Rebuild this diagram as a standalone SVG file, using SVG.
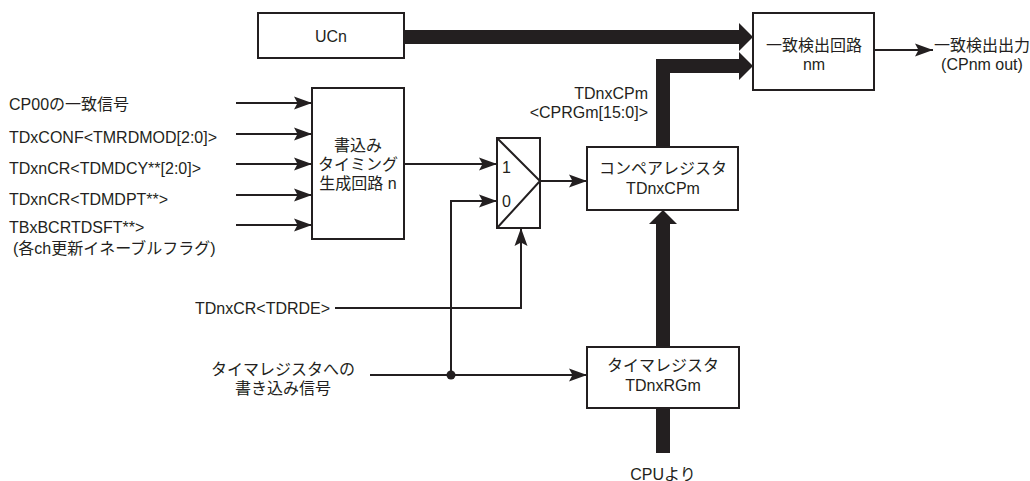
<svg xmlns="http://www.w3.org/2000/svg" width="1030" height="481" viewBox="0 0 1030 481">
<style>
text{font-family:"Liberation Sans","Noto Sans CJK JP",sans-serif;font-size:16px;fill:#231f20;dominant-baseline:central}
.box{fill:#fff;stroke:#231f20;stroke-width:2}
.w{fill:none;stroke:#231f20;stroke-width:2}
.bus{fill:none;stroke:#231f20;stroke-width:14;stroke-linejoin:miter}
.mid{text-anchor:middle}
.end{text-anchor:end}
</style>
<defs>
<marker id="ah" markerUnits="userSpaceOnUse" markerWidth="20" markerHeight="14" viewBox="-19 -7 20 14" refX="0" refY="0" orient="auto">
<path d="M0,0 L-18,-6.5 L-14.5,0 L-18,6.5 Z" fill="#231f20"/>
</marker>
<marker id="bh" markerUnits="userSpaceOnUse" markerWidth="18" markerHeight="30" viewBox="-1 -15 17 30" refX="0" refY="0" orient="auto">
<path d="M0,-14 L14,0 L0,14 Z" fill="#231f20"/>
</marker>
</defs>

<g id="connectors">
<path class="bus" d="M404,37 H739" marker-end="url(#bh)"/>
<path class="bus" d="M663,147 V66 H739" marker-end="url(#bh)"/>
<path class="bus" d="M663,347 V224" marker-end="url(#bh)"/>
<path class="bus" d="M663,408 V453"/>
<path class="w" d="M236,103 H312" marker-end="url(#ah)"/>
<path class="w" d="M236,134 H312" marker-end="url(#ah)"/>
<path class="w" d="M236,164 H312" marker-end="url(#ah)"/>
<path class="w" d="M236,195 H312" marker-end="url(#ah)"/>
<path class="w" d="M236,225 H312" marker-end="url(#ah)"/>
<path class="w" d="M404,164 H497" marker-end="url(#ah)"/>
<path class="w" d="M451,375 V201 H497" marker-end="url(#ah)"/>
<path class="w" d="M335,308 H521 V228" marker-end="url(#ah)"/>
<path class="w" d="M370,375 H587" marker-end="url(#ah)"/>
<path class="w" d="M540,181 H587" marker-end="url(#ah)"/>
<path class="w" d="M874,50 H933" marker-end="url(#ah)"/>
<circle cx="451" cy="375" r="4.5" fill="#231f20"/>
<text class="end" x="648" y="93">TDnxCPm</text>
<text class="end" x="648" y="112">&lt;CPRGm[15:0]&gt;</text>
</g>

<g id="ucn">
<rect class="box" x="258" y="13" width="146" height="45"/>
<text class="mid" x="331" y="36">UCn</text>
</g>

<g id="match">
<rect class="box" x="753" y="13" width="121" height="77"/>
<text class="mid" x="814" y="45">一致検出回路</text>
<text class="mid" x="814" y="64">nm</text>
</g>

<g id="output">
<text x="934" y="45">一致検出出力</text>
<text class="mid" x="982" y="64">(CPnm out)</text>
</g>

<g id="inputs">
<text x="9" y="104">CP00の一致信号</text>
<text x="9" y="137">TDxCONF&lt;TMRDMOD[2:0]&gt;</text>
<text x="9" y="168">TDxnCR&lt;TDMDCY**[2:0]&gt;</text>
<text x="9" y="199">TDxnCR&lt;TDMDPT**&gt;</text>
<text x="9" y="227">TBxBCRTDSFT**&gt;</text>
<text x="13" y="248">(各ch更新イネーブルフラグ)</text>
</g>

<g id="timing">
<rect class="box" x="312" y="88" width="92" height="151"/>
<text class="mid" x="358" y="145">書込み</text>
<text class="mid" x="358" y="164">タイミング</text>
<text class="mid" x="358" y="183">生成回路 n</text>
</g>

<g id="mux">
<rect class="box" x="497" y="138" width="43" height="90"/>
<path class="w" d="M497,138 L540,181 L497,228"/>
<text x="502" y="167">1</text>
<text x="502" y="201">0</text>
</g>

<g id="compare">
<rect class="box" x="587" y="147" width="151" height="63"/>
<text class="mid" x="663" y="168">コンペアレジスタ</text>
<text class="mid" x="663" y="188">TDnxCPm</text>
</g>

<g id="timer">
<rect class="box" x="587" y="347" width="152" height="61"/>
<text class="mid" x="663" y="365">タイマレジスタ</text>
<text class="mid" x="663" y="385">TDnxRGm</text>
</g>

<g id="tdrde">
<text x="195" y="308">TDnxCR&lt;TDRDE&gt;</text>
</g>

<g id="wsig">
<text class="mid" x="283" y="369">タイマレジスタへの</text>
<text class="mid" x="283" y="388">書き込み信号</text>
</g>

<g id="cpu">
<text class="mid" x="663" y="474">CPUより</text>
</g>
</svg>
